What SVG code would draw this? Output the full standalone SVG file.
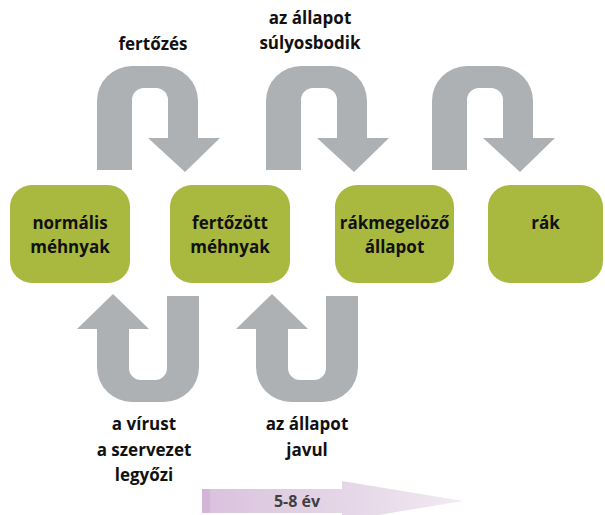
<svg xmlns="http://www.w3.org/2000/svg" width="605" height="515" viewBox="0 0 605 515">
<style>
.box{fill:#a9b83f}
.arr{fill:#aeb1b4}
.t{font-family:"Open Sans","DejaVu Sans",sans-serif;font-weight:bold;font-size:17px;fill:#111;text-anchor:middle}
.lab{font-family:"Open Sans","DejaVu Sans",sans-serif;font-weight:bold;font-size:17px;fill:#111;text-anchor:middle}
.yr{font-family:"Open Sans","DejaVu Sans",sans-serif;font-weight:bold;font-size:16px;fill:#404040;text-anchor:middle}
</style>
<defs>
<path id="down" d="M0,170 V101 A35,35 0 0 1 35,66 H66 A35,35 0 0 1 101,101 V138 H123 L88,172 L51,138 H71 V100 A12,12 0 0 0 59,88 H47 A12,12 0 0 0 35,100 V170 Z"/>
<path id="up" d="M0,329 H-20 L16,294 L52,329 H32 V368 A12,12 0 0 0 44,380 H58 A12,12 0 0 0 70,368 V296 H102 V367 A35,35 0 0 1 67,402 H35 A35,35 0 0 1 0,367 Z"/>
<linearGradient id="pg" x1="0" y1="0" x2="1" y2="0">
<stop offset="0" stop-color="#d9c2dd"/>
<stop offset="0.6" stop-color="#e6d8e8"/>
<stop offset="1" stop-color="#f2eaf3"/>
</linearGradient>
</defs>
<g id="connectors">
<use href="#down" class="arr" x="97"/>
<use href="#down" class="arr" x="266"/>
<use href="#down" class="arr" x="432"/>
<use href="#up" class="arr" x="97"/>
<use href="#up" class="arr" x="256"/>
<text class="lab" x="153" y="50">fertőzés</text>
<text class="lab" x="310" y="24">az állapot</text>
<text class="lab" x="310" y="49">súlyosbodik</text>
<text class="lab" x="144" y="430">a vírust</text>
<text class="lab" x="144" y="456">a szervezet</text>
<text class="lab" x="144" y="481">legyőzi</text>
<text class="lab" x="307" y="430">az állapot</text>
<text class="lab" x="307" y="456">javul</text>
</g>
<g id="timeline">
<path d="M202,489 H342 V481 L463,501 L342,521 V513 H202 Z" fill="url(#pg)"/>
<rect x="202" y="489" width="8" height="24" fill="#cdb0d1" opacity="0.7"/>
<text class="yr" x="297" y="507">5-8 év</text>
</g>
<g id="n1"><rect class="box" x="10" y="185" width="120" height="98" rx="22"/><text class="t" x="70" y="229">normális</text><text class="t" x="70" y="253">méhnyak</text></g>
<g id="n2"><rect class="box" x="170" y="185" width="120" height="98" rx="22"/><text class="t" x="230" y="229">fertőzött</text><text class="t" x="230" y="253">méhnyak</text></g>
<g id="n3"><rect class="box" x="335" y="185" width="119" height="98" rx="22"/><text class="t" x="394.5" y="229">rákmegelöző</text><text class="t" x="394.5" y="253">állapot</text></g>
<g id="n4"><rect class="box" x="488" y="185" width="115" height="98" rx="22"/><text class="t" x="545.5" y="229">rák</text></g>
</svg>
